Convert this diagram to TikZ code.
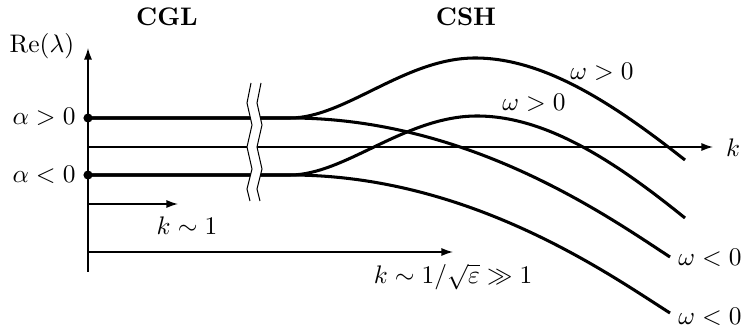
\documentclass[tikz,border=0pt]{standalone}
\usetikzlibrary{arrows.meta}
\begin{document}
\begin{tikzpicture}[x=0.394pt,y=-0.394pt,
  thickline/.style={line width=1.2pt},
  axisline/.style={line width=0.55pt},
  arr/.style={axisline,-{Latex[length=4.6pt,width=3.2pt]}},
  zig/.style={line width=0.4pt},
  lbl/.style={inner sep=0pt}]
\useasboundingbox (0,0) rectangle (748,334);
% coordinates
\coordinate (o) at (88,272);
\coordinate (ytip) at (88,48);
\coordinate (kl) at (88,147);
\coordinate (kr) at (713,147);
\coordinate (up0) at (88,118);
\coordinate (lo0) at (88,175);
\coordinate (up1) at (290,118);
\coordinate (lo1) at (290,175);
\coordinate (s1) at (88,204);
\coordinate (s2) at (178,204);
\coordinate (l1) at (88,252);
\coordinate (l2) at (453,252);
% axes
\draw[arr] (o) -- (ytip);
\draw[arr] (kl) -- (kr);
\draw[arr] (s1) -- (s2);
\draw[arr] (l1) -- (l2);
% branches
\draw[thickline] (up0) -- (up1) .. controls (345,118) and (405,58) .. (475,58)
   .. controls (545,58) and (615,105) .. (685,160);
\draw[thickline] (up0) -- (up1) .. controls (470,118) and (610,218) .. (670,257);
\draw[thickline] (lo0) -- (lo1) .. controls (345,175) and (405,116) .. (477,116)
   .. controls (547,116) and (617,163) .. (685,218);
\draw[thickline] (lo0) -- (lo1) .. controls (470,175) and (610,275) .. (670,313);
% break
\fill[white] (251,83) -- (247,103) -- (252,125) -- (247,147) -- (252,169) -- (247,189) -- (250,201)
  -- (260,201) -- (257,189) -- (262,169) -- (257,147) -- (262,125) -- (257,103) -- (261,83) -- cycle;
\draw[zig] (251,83) -- (247,103) -- (252,125) -- (247,147) -- (252,169) -- (247,189) -- (250,201);
\draw[zig] (261,83) -- (257,103) -- (262,125) -- (257,147) -- (262,169) -- (257,189) -- (260,201);
% dots
\fill (up0) circle (1.8pt);
\fill (lo0) circle (1.8pt);
% labels
\node[lbl] (re) at (42,46) {$\mathrm{Re}(\lambda)$};
\node[lbl,anchor=east] (ap) at (76,117) {$\alpha>0$};
\node[lbl,anchor=east] (am) at (76,175) {$\alpha<0$};
\node[lbl] (k) at (733,148) {$k$};
\node[lbl] (k1) at (187,226) {$k\sim1$};
\node[lbl] (k2) at (453,277) {$k\sim1/\sqrt{\varepsilon}\gg1$};
\node[lbl] (cgl) at (167,17) {\textbf{CGL}};
\node[lbl] (csh) at (466,17) {\textbf{CSH}};
\node[lbl] (w1) at (602,72) {$\omega>0$};
\node[lbl] (w2) at (534,103) {$\omega>0$};
\node[lbl] (w3) at (710,258) {$\omega<0$};
\node[lbl] (w4) at (710,317) {$\omega<0$};
\end{tikzpicture}
\end{document}
